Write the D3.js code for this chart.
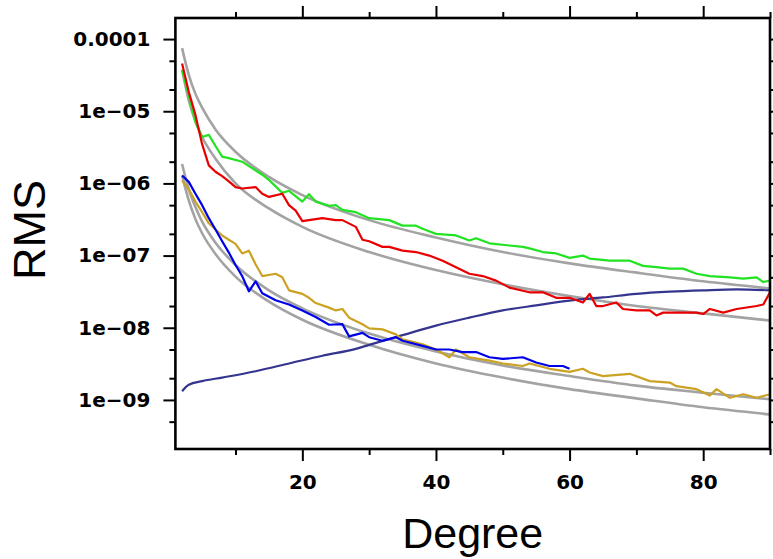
<!DOCTYPE html>
<html>
<head>
<meta charset="utf-8">
<script src="https://cdn.jsdelivr.net/npm/d3@7"></script>
<style>
  body { margin: 0; background: #fff; }
  svg { display: block; }
</style>
</head>
<body>
<div id="chart"></div>
<script>
// ---- data ----
const yTickValues = [1e-9, 1e-8, 1e-7, 1e-6, 1e-5, 1e-4];
const yTickLabels = ["1e\u221209", "1e\u221208", "1e\u221207", "1e\u221206", "1e\u221205", "0.0001"];
const xTickValues = [20, 40, 60, 80];
const xMinorTicks = [10, 30, 50, 70, 90];

// smooth reference curves (gray)
const grayDeg = [2, 3, 4, 5, 7, 10, 15, 20, 30, 40, 50, 60, 70, 80, 90];
const grayTop1 = [7.5e-5, 3.2e-5, 1.74e-5, 1.12e-5, 5.6e-6, 2.75e-6, 1.23e-6, 6.9e-7, 3.1e-7, 1.78e-7, 1.12e-7, 7.8e-8, 5.8e-8, 4.4e-8, 3.5e-8];
const grayTop2 = [3.8e-5, 1.41e-5, 7.2e-6, 4.4e-6, 2.2e-6, 1.0e-6, 4.5e-7, 2.5e-7, 1.12e-7, 6.3e-8, 4.0e-8, 2.75e-8, 2.0e-8, 1.58e-8, 1.26e-8];
const grayLow1 = [1.86e-6, 8.3e-7, 4.7e-7, 2.95e-7, 1.51e-7, 7.4e-8, 3.3e-8, 1.86e-8, 8.3e-9, 4.7e-9, 3.0e-9, 2.14e-9, 1.58e-9, 1.26e-9, 1.02e-9];
const grayLow2 = [1.29e-6, 5.8e-7, 3.2e-7, 2.04e-7, 1.05e-7, 5.1e-8, 2.3e-8, 1.29e-8, 5.8e-9, 3.2e-9, 2.04e-9, 1.41e-9, 1.05e-9, 7.9e-10, 6.3e-10];

// green
const greenDeg = [2, 3, 4, 5, 6, 7, 8, 9, 11, 12, 14, 15, 16, 17, 18, 20, 21, 22, 24, 25, 26, 28, 30, 33, 35, 37, 38, 40, 43, 45, 46, 48, 51, 53, 54, 56, 58, 60, 62, 63, 66, 69, 71, 73, 75, 77, 79, 81, 84, 86, 88, 89, 90];
const greenRms = [3.7e-5, 1.66e-5, 7.1e-6, 4.4e-6, 4.7e-6, 3.3e-6, 2.35e-6, 2.24e-6, 2.0e-6, 1.74e-6, 1.32e-6, 1.12e-6, 9.1e-7, 7.4e-7, 7.9e-7, 5.6e-7, 7.1e-7, 5.6e-7, 4.9e-7, 5.0e-7, 4.3e-7, 4.0e-7, 3.3e-7, 3.1e-7, 2.6e-7, 2.6e-7, 2.35e-7, 2.0e-7, 1.9e-7, 1.62e-7, 1.74e-7, 1.48e-7, 1.38e-7, 1.32e-7, 1.26e-7, 1.12e-7, 1.07e-7, 9.3e-8, 1.0e-7, 9.1e-8, 8.5e-8, 8.5e-8, 7.2e-8, 6.9e-8, 6.6e-8, 6.6e-8, 5.6e-8, 5.2e-8, 5.0e-8, 4.8e-8, 5.0e-8, 4.3e-8, 4.5e-8];

// red
const redDeg = [2, 3, 4, 5, 6, 7, 8, 9, 10, 11, 13, 14, 15, 17, 18, 19, 20, 22, 23, 25, 26, 28, 29, 30, 32, 33, 35, 37, 39, 41, 43, 45, 47, 49, 51, 54, 56, 58, 60, 62, 63, 64, 65, 67, 68, 70, 72, 73, 74, 77, 79, 80, 81, 83, 85, 88, 89, 90];
const redRms = [4.6e-5, 1.86e-5, 8.9e-6, 3.5e-6, 1.78e-6, 1.45e-6, 1.26e-6, 1.07e-6, 8.9e-7, 8.5e-7, 8.9e-7, 7.2e-7, 6.5e-7, 7.2e-7, 5.0e-7, 4.2e-7, 3.0e-7, 3.2e-7, 3.3e-7, 3.1e-7, 3.1e-7, 2.5e-7, 1.66e-7, 1.58e-7, 1.32e-7, 1.32e-7, 1.17e-7, 1.12e-7, 1.0e-7, 8.5e-8, 6.9e-8, 5.6e-8, 5.2e-8, 4.5e-8, 3.6e-8, 3.1e-8, 3.1e-8, 2.6e-8, 2.6e-8, 2.24e-8, 2.95e-8, 2.0e-8, 2.0e-8, 2.24e-8, 1.82e-8, 1.74e-8, 1.74e-8, 1.48e-8, 1.62e-8, 1.62e-8, 1.62e-8, 1.55e-8, 1.82e-8, 1.62e-8, 1.82e-8, 2.0e-8, 2.1e-8, 3.1e-8];

// navy (rising)
const navyDeg = [2, 3, 5, 8, 13, 18, 23, 28, 30, 35, 40, 45, 50, 55, 60, 65, 70, 75, 80, 85, 90];
const navyRms = [1.32e-9, 1.62e-9, 1.82e-9, 2.04e-9, 2.5e-9, 3.2e-9, 4.1e-9, 5.1e-9, 5.8e-9, 7.9e-9, 1.07e-8, 1.38e-8, 1.74e-8, 2.04e-8, 2.37e-8, 2.63e-8, 2.95e-8, 3.16e-8, 3.3e-8, 3.4e-8, 3.3e-8];

// blue (stops near degree 60)
const blueDeg = [2, 3, 4, 5, 6, 7, 8, 9, 10, 11, 12, 13, 14, 16, 18, 20, 22, 24, 26, 27, 29, 30, 32, 34, 35, 38, 40, 42, 44, 46, 48, 50, 53, 55, 57, 59, 60];
const blueRms = [1.29e-6, 1.05e-6, 7.2e-7, 5.0e-7, 3.3e-7, 2.3e-7, 1.58e-7, 1.1e-7, 7.4e-8, 5.2e-8, 3.2e-8, 4.4e-8, 3.0e-8, 2.4e-8, 2.1e-8, 1.74e-8, 1.41e-8, 1.1e-8, 1.12e-8, 7.6e-9, 8.5e-9, 7.4e-9, 6.6e-9, 7.4e-9, 6.6e-9, 5.6e-9, 5.0e-9, 5.0e-9, 4.6e-9, 4.6e-9, 3.9e-9, 3.7e-9, 3.9e-9, 3.3e-9, 2.95e-9, 2.95e-9, 2.7e-9];

// gold
const goldDeg = [2, 3, 4, 5, 6, 7, 8, 9, 10, 11, 12, 13, 14, 16, 17, 18, 20, 21, 22, 24, 25, 26, 27, 29, 30, 32, 34, 35, 38, 40, 42, 43, 45, 48, 50, 53, 54, 57, 60, 62, 63, 65, 69, 72, 75, 76, 79, 81, 82, 84, 86, 88, 90];
const goldRms = [1.1e-6, 8.3e-7, 5.6e-7, 4.0e-7, 2.8e-7, 2.3e-7, 1.9e-7, 1.66e-7, 1.45e-7, 1.07e-7, 1.17e-7, 7.6e-8, 5.2e-8, 5.6e-8, 5.0e-8, 3.3e-8, 2.95e-8, 2.6e-8, 2.2e-8, 1.9e-8, 1.74e-8, 1.82e-8, 1.38e-8, 1.12e-8, 9.8e-9, 9.5e-9, 8.1e-9, 6.9e-9, 5.9e-9, 5.0e-9, 3.9e-9, 5.0e-9, 3.9e-9, 3.5e-9, 3.2e-9, 2.95e-9, 3.2e-9, 2.7e-9, 2.45e-9, 2.7e-9, 2.4e-9, 2.14e-9, 2.3e-9, 1.82e-9, 1.74e-9, 1.55e-9, 1.41e-9, 1.15e-9, 1.41e-9, 1.07e-9, 1.2e-9, 1.07e-9, 1.2e-9];

// ---- chart ----
const W = 773, H = 559;
const plot = { left: 175.4, right: 770, top: 18, bottom: 449 };

const svg = d3.select("#chart")
  .append("svg")
    .attr("width", W)
    .attr("height", H);

const x = d3.scaleLinear()
  .domain([1, 90])
  .range([plot.left, plot.right]);

const y = d3.scaleLog()
  .domain([Math.pow(10, -9.68), Math.pow(10, -3.708)])
  .range([plot.bottom, plot.top]);

const zip = (deg, val) => deg.map((d, i) => ({ n: d, v: val[i] }));

const smooth = d3.line()
  .x(d => x(d.n))
  .y(d => y(d.v))
  .curve(d3.curveMonotoneX);

const jagged = d3.line()
  .x(d => x(d.n))
  .y(d => y(d.v));

const lines = svg.append("g");

// gray reference curves
[grayTop1, grayTop2, grayLow1, grayLow2].forEach(vals => {
  lines.append("path")
    .datum(zip(grayDeg, vals))
    .attr("fill", "none")
    .attr("stroke", "#a3a3a3")
    .attr("stroke-width", 2.6)
    .attr("d", smooth);
});

// colored series
const series = [
  { deg: navyDeg, rms: navyRms, color: "#35358f", gen: smooth },
  { deg: greenDeg, rms: greenRms, color: "#22e322", gen: jagged },
  { deg: redDeg, rms: redRms, color: "#e80000", gen: jagged },
  { deg: goldDeg, rms: goldRms, color: "#cba223", gen: jagged },
  { deg: blueDeg, rms: blueRms, color: "#0000e8", gen: jagged }
];

series.forEach(s => {
  lines.append("path")
    .datum(zip(s.deg, s.rms))
    .attr("fill", "none")
    .attr("stroke", s.color)
    .attr("stroke-width", 2.2)
    .attr("stroke-linejoin", "round")
    .attr("d", s.gen);
});

// minor tick positions on the log axis (2 and 5 times each decade)
const yMinor = [];
for (let e = -10; e <= -4; e++) {
  [2, 5].forEach(m => {
    const v = m * Math.pow(10, e);
    if (y(v) <= plot.bottom - 1 && y(v) >= plot.top + 1) yMinor.push(v);
  });
}

const tickFont = "'DejaVu Sans', sans-serif";

function styleAxis(g) {
  g.select(".domain").remove();
  g.selectAll(".tick line").attr("stroke", "#000").attr("stroke-width", 2);
  g.selectAll(".tick text")
    .attr("fill", "#000")
    .style("font-family", tickFont)
    .style("font-weight", "bold")
    .style("font-size", "20px");
}

// left axis
svg.append("g")
  .attr("transform", `translate(${plot.left},0)`)
  .call(d3.axisLeft(y).tickValues(yTickValues).tickSize(12).tickPadding(13)
    .tickFormat((d, i) => yTickLabels[i]))
  .call(styleAxis);
svg.append("g")
  .attr("transform", `translate(${plot.left},0)`)
  .call(d3.axisLeft(y).tickValues(yMinor).tickSize(6).tickFormat(""))
  .call(styleAxis);

// right axis (ticks only)
svg.append("g")
  .attr("transform", `translate(${plot.right},0)`)
  .call(d3.axisRight(y).tickValues(yTickValues).tickSize(12).tickFormat(""))
  .call(styleAxis);
svg.append("g")
  .attr("transform", `translate(${plot.right},0)`)
  .call(d3.axisRight(y).tickValues(yMinor).tickSize(6).tickFormat(""))
  .call(styleAxis);

// bottom axis
svg.append("g")
  .attr("transform", `translate(0,${plot.bottom})`)
  .call(d3.axisBottom(x).tickValues(xTickValues).tickSize(12).tickPadding(14)
    .tickFormat(d3.format("d")))
  .call(styleAxis);
svg.append("g")
  .attr("transform", `translate(0,${plot.bottom})`)
  .call(d3.axisBottom(x).tickValues(xMinorTicks).tickSize(6).tickFormat(""))
  .call(styleAxis);

// top axis (ticks only)
svg.append("g")
  .attr("transform", `translate(0,${plot.top})`)
  .call(d3.axisTop(x).tickValues(xTickValues).tickSize(12).tickFormat(""))
  .call(styleAxis);
svg.append("g")
  .attr("transform", `translate(0,${plot.top})`)
  .call(d3.axisTop(x).tickValues(xMinorTicks).tickSize(6).tickFormat(""))
  .call(styleAxis);

// frame
svg.append("rect")
  .attr("x", plot.left)
  .attr("y", plot.top)
  .attr("width", plot.right - plot.left)
  .attr("height", plot.bottom - plot.top)
  .attr("fill", "none")
  .attr("stroke", "#000")
  .attr("stroke-width", 2.6);

// axis titles
svg.append("text")
  .attr("transform", "translate(45,230) rotate(-90)")
  .attr("text-anchor", "middle")
  .style("font-family", "'Liberation Sans', Arial, sans-serif")
  .style("font-size", "45px")
  .text("RMS");

svg.append("text")
  .attr("x", (plot.left + plot.right) / 2)
  .attr("y", 548)
  .attr("text-anchor", "middle")
  .style("font-family", "'Liberation Sans', Arial, sans-serif")
  .style("font-size", "43px")
  .text("Degree");
</script>
</body>
</html>
